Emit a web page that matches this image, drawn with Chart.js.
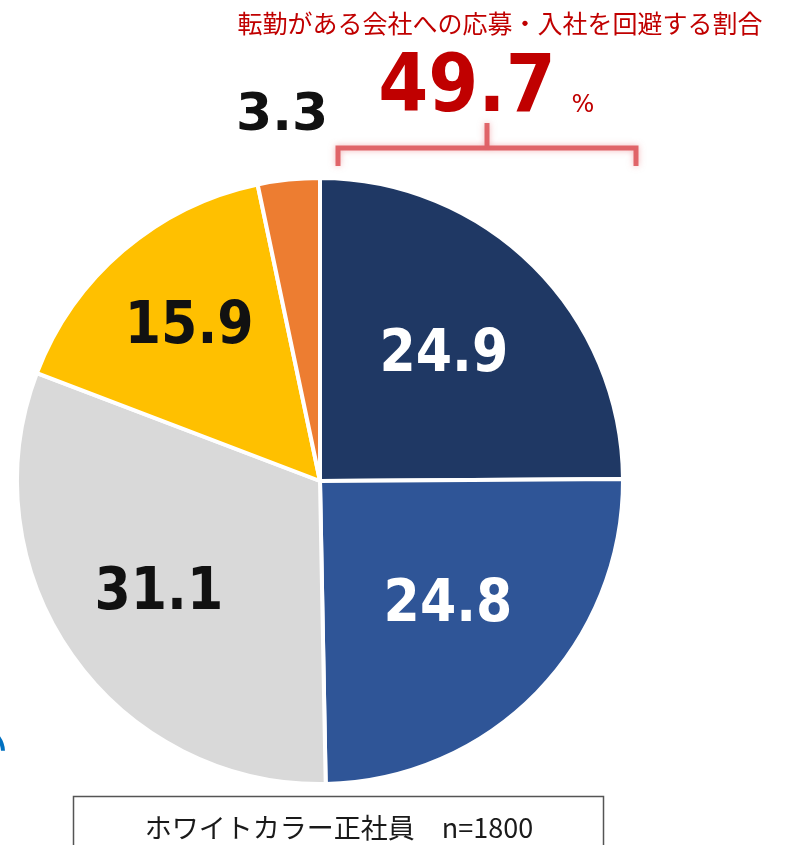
<!DOCTYPE html>
<html lang="ja">
<head>
<meta charset="utf-8">
<title>転勤がある会社への応募・入社を回避する割合</title>
<script src="https://cdn.jsdelivr.net/npm/chart.js@4.4.1/dist/chart.umd.min.js"></script>
<style>
  html, body { margin: 0; padding: 0; background: #fff; }
  canvas { display: block; }
</style>
</head>
<body>
<canvas id="pie" width="785" height="845"></canvas>
<script>
// answer categories, clockwise from 12 o'clock
const categories = ['回避する', 'どちらかといえば回避する', 'どちらともいえない', 'どちらかといえば回避しない', '回避しない'];
const shares = [24.9, 24.8, 31.1, 15.9, 3.3];
const sliceColors = ['#1F3864', '#2F5597', '#D9D9D9', '#FFC000', '#ED7D31'];
const labelColors = ['#fff', '#fff', '#111', '#111', '#111'];
// how far out from the centre each number sits (fraction of the radius)
const labelRadius = [0.58, 0.59, 0.65, 0.665, 1.21];

const headline = '転勤がある会社への応募・入社を回避する割合';
const sampleNote = 'ホワイトカラー正社員\u3000n=1800';
// the two "avoid" slices add up to the big number
const avoidTotal = (shares[0] + shares[1]).toFixed(1);

const NUM_FONT = '"DejaVu Sans Condensed", "DejaVu Sans", Verdana, sans-serif';
const JP_FONT = '"Noto Sans CJK JP", "Noto Sans", sans-serif';

const sliceLabels = {
  id: 'sliceLabels',
  afterDatasetsDraw(chart) {
    const ctx = chart.ctx;
    const arcs = chart.getDatasetMeta(0).data;
    ctx.save();
    ctx.textAlign = 'center';
    ctx.textBaseline = 'middle';
    arcs.forEach((arc, i) => {
      const p = arc.getProps(['x', 'y', 'startAngle', 'endAngle', 'outerRadius'], true);
      const mid = (p.startAngle + p.endAngle) / 2;
      const r = p.outerRadius * labelRadius[i];
      const outside = labelRadius[i] > 1;
      ctx.font = outside ? 'bold 52px "DejaVu Sans", sans-serif' : 'bold 58px ' + NUM_FONT;
      ctx.fillStyle = labelColors[i];
      ctx.fillText(shares[i].toFixed(1), p.x + Math.cos(mid) * r, p.y + Math.sin(mid) * r);
    });
    ctx.restore();
  }
};

const annotations = {
  id: 'annotations',
  afterDraw(chart) {
    const ctx = chart.ctx;
    ctx.save();

    // headline
    ctx.fillStyle = '#C00000';
    ctx.textAlign = 'center';
    ctx.textBaseline = 'alphabetic';
    ctx.font = '25px ' + JP_FONT;
    ctx.fillText(headline, 500, 33);

    // big share figure
    ctx.font = 'bold 80px ' + NUM_FONT;
    ctx.fillText(avoidTotal, 467, 111);
    ctx.font = '24px "DejaVu Sans", sans-serif';
    ctx.fillText('%', 583, 112);

    // bracket over the two avoid slices
    ctx.strokeStyle = 'rgba(220, 80, 85, 0.85)';
    ctx.lineWidth = 5;
    ctx.shadowColor = 'rgba(230, 110, 115, 0.6)';
    ctx.shadowBlur = 6;
    ctx.beginPath();
    ctx.moveTo(338, 166);
    ctx.lineTo(338, 148);
    ctx.lineTo(636, 148);
    ctx.lineTo(636, 166);
    ctx.moveTo(487, 148);
    ctx.lineTo(487, 123);
    ctx.stroke();
    ctx.shadowBlur = 0;

    // sample note box
    ctx.strokeStyle = '#555';
    ctx.lineWidth = 1.5;
    ctx.strokeRect(73.5, 796.5, 530, 70);
    ctx.fillStyle = '#1a1a1a';
    ctx.font = '27px ' + JP_FONT;
    ctx.fillText(sampleNote, 339, 838);

    // edge of a neighbouring mark cut off at the left
    ctx.strokeStyle = '#0070C0';
    ctx.lineWidth = 4;
    ctx.beginPath();
    ctx.arc(-22, 752, 25, -1.2, -0.05);
    ctx.stroke();

    ctx.restore();
  }
};

new Chart(document.getElementById('pie'), {
  type: 'pie',
  data: {
    labels: categories,
    datasets: [{
      data: shares,
      backgroundColor: sliceColors,
      borderColor: '#fff',
      borderWidth: 4
    }]
  },
  options: {
    responsive: false,
    animation: false,
    layout: { padding: { left: 15, top: 176, right: 160, bottom: 59 } },
    plugins: {
      legend: { display: false },
      tooltip: { enabled: false }
    }
  },
  plugins: [sliceLabels, annotations]
});
</script>
</body>
</html>
